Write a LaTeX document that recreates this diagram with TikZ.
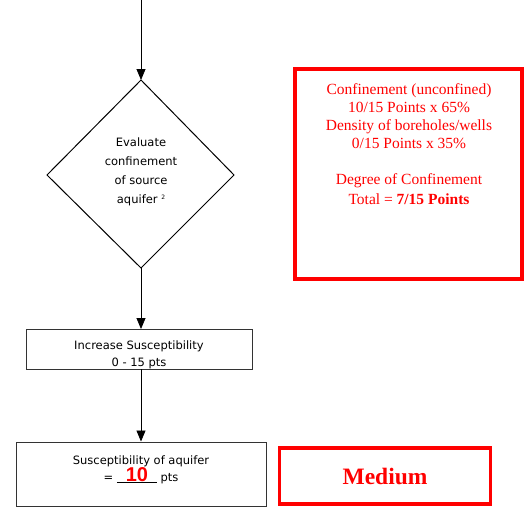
\documentclass[tikz,border=0pt]{standalone}
\usepackage{fontspec}
\setmainfont{Liberation Serif}
\newfontfamily\comic{DejaVu Sans}
\newfontfamily\arialf{Liberation Sans}
\usetikzlibrary{arrows.meta,shapes.geometric}
\definecolor{redc}{RGB}{255,0,0}
\tikzset{
  flow/.style={draw=black, line width=0.8pt, -{Triangle[length=11pt,width=9pt]}},
  blackbox/.style={draw=black!80, line width=1pt, fill=white},
  redbox/.style={draw=redc, line width=3.5pt},
  comictext/.style={font=\comic\fontsize{11.5}{19}\selectfont, align=center, text=black},
  boxtext/.style={font=\comic\fontsize{11.5}{17.5}\selectfont, align=center, text=black},
  redtext/.style={font=\fontsize{15.5}{18}\selectfont, align=center, text=redc},
}
\begin{document}
\begin{tikzpicture}[x=1pt,y=-1pt]
\useasboundingbox (0,0) rectangle (524,507);
% diamond
\coordinate (top) at (141,0);
\draw[line width=1pt] (141,80) -- (234,175) -- (141,268) -- (47,175) -- cycle;
\node[comictext] (dia) at (141,172) {Evaluate\\confinement\\of source\\aquifer {\fontsize{6}{6}\selectfont\raisebox{4pt}{2}}};
\coordinate (dtop) at (141,80);
\coordinate (dbot) at (141,268);
% boxes
\node[blackbox, minimum width=226pt, minimum height=40pt] (inc) at (139,349) {};
\node[boxtext] (inct) at (139,355) {Increase Susceptibility\\0 - 15 pts};
\coordinate (inctop) at (141,329);
\coordinate (incbot) at (141,369);
\node[blackbox, minimum width=250pt, minimum height=64pt] (sus) at (141,474) {};
\node[boxtext] (sust) at (141,470) {Susceptibility of aquifer\\= \rule[-1pt]{40pt}{0.6pt} pts};
\node[font=\arialf\bfseries\fontsize{20}{20}\selectfont, text=redc, inner sep=0pt] (ten) at (137,475) {10};
% red boxes
\draw[redbox] (295,69) rectangle (522,279);
\node[redtext] (conf) at (409,144) {Confinement (unconfined)\\10/15 Points x 65\%\\Density of boreholes/wells\\0/15 Points x 35\%\\[18pt]Degree of Confinement\\[2pt]Total = \textbf{7/15 Points}};
\node[redbox, minimum width=211pt, minimum height=56pt] (med) at (385,476) {};
\node[font=\bfseries\fontsize{23.5}{24}\selectfont, text=redc] (medt) at (385,476) {Medium};
% connectors
\draw[flow] (top) -- (dtop);
\draw[flow] (dbot) -- (inctop);
\draw[flow] (incbot) -- (sus.north);
\end{tikzpicture}
\end{document}
